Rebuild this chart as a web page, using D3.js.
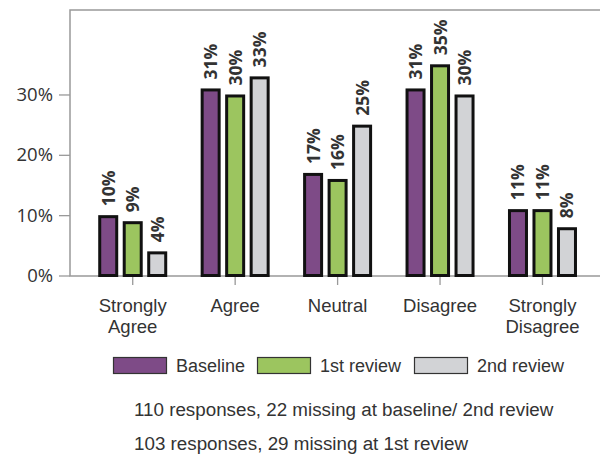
<!DOCTYPE html>
<html>
<head>
<meta charset="utf-8">
<script src="https://cdn.jsdelivr.net/npm/d3@7"></script>
<style>
  body { margin: 0; background: #fff; }
  svg { display: block; }
</style>
</head>
<body>
<svg id="chart"></svg>
<script>
// survey answers, percent of responses
let categories = ['Strongly Agree', 'Agree', 'Neutral', 'Disagree', 'Strongly Disagree']
let seriesNames = ['Baseline', '1st review', '2nd review']
let baseline = [10, 31, 17, 31, 11]
let firstReview = [9, 30, 16, 35, 11]
let secondReview = [4, 33, 25, 30, 8]
let yTicks = [0, 10, 20, 30]
let footnotes = [
    '110 responses, 22 missing at baseline/ 2nd review',
    '103 responses, 29 missing at 1st review'
]

let seriesValues = [baseline, firstReview, secondReview]
let colors = ['#7e4b87', '#9cc55f', '#d2d3d6']

let width = 600
let height = 456
let frame = { left: 70, top: 10, right: 602, bottom: 276 }

let svg = d3.select('#chart')
    .attr('width', width)
    .attr('height', height)

let x = d3.scaleBand()
    .domain(categories)
    .range([81.5, 593.7])

let xInner = d3.scaleBand()
    .domain(seriesNames)
    .range([-36.75, 36.75])

let y = d3.scaleLinear()
    .domain([0, 44])
    .range([275.5, 10])

let textColor = '#333'
let lineColor = '#999'

// frame (right side runs off the picture)
svg.append('path')
    .attr('d', `M${frame.right},${frame.top}H${frame.left}V${frame.bottom}H${frame.right}`)
    .attr('fill', 'none')
    .attr('stroke', lineColor)
    .attr('stroke-width', 1.5)

// y axis
let yAxis = svg.append('g')
    .attr('transform', `translate(${frame.left},0)`)
    .call(d3.axisLeft(y).tickValues(yTicks).tickSize(11).tickPadding(6).tickFormat(d => d + '%'))
yAxis.select('.domain').remove()
yAxis.selectAll('line').attr('stroke', lineColor).attr('stroke-width', 1.3)
yAxis.selectAll('text')
    .attr('fill', textColor)
    .style('font-family', '"Open Sans", sans-serif')
    .style('font-size', '18.5px')

// x axis, labels wrapped on spaces
let xAxis = svg.append('g')
    .attr('transform', `translate(0,${frame.bottom})`)
    .call(d3.axisBottom(x).tickSize(9).tickFormat(''))
xAxis.select('.domain').remove()
xAxis.selectAll('line').attr('stroke', lineColor).attr('stroke-width', 1.3)

let catLabels = svg.append('g')
    .selectAll('text')
    .data(categories)
    .join('text')
    .attr('x', d => x(d) + x.bandwidth() / 2)
    .attr('y', 312)
    .attr('text-anchor', 'middle')
    .attr('fill', textColor)
    .style('font-family', '"Liberation Sans", Arial, sans-serif')
    .style('font-size', '18.5px')
catLabels.selectAll('tspan')
    .data(d => d.split(' '))
    .join('tspan')
    .attr('x', function() { return d3.select(this.parentNode).attr('x') })
    .attr('dy', (d, i) => i === 0 ? 0 : 21)
    .text(d => d)

// bars
let barData = []
categories.forEach((c, ci) => {
    seriesNames.forEach((s, si) => {
        barData.push({ cat: c, series: s, si: si, value: seriesValues[si][ci] })
    })
})

let barW = 17
let groups = svg.append('g')
groups.selectAll('rect')
    .data(barData)
    .join('rect')
    .attr('x', d => x(d.cat) + x.bandwidth() / 2 + xInner(d.series) + xInner.bandwidth() / 2 - barW / 2)
    .attr('y', d => y(d.value) + 1.5)
    .attr('width', barW)
    .attr('height', d => y(0) - y(d.value) - 1.5)
    .attr('fill', d => colors[d.si])
    .attr('stroke', '#111')
    .attr('stroke-width', 3)

groups.selectAll('text')
    .data(barData)
    .join('text')
    .attr('transform', d => {
        let cx = x(d.cat) + x.bandwidth() / 2 + xInner(d.series) + xInner.bandwidth() / 2
        return `translate(${cx + 6.5},${y(d.value) - 9}) rotate(-90)`
    })
    .attr('fill', textColor)
    .style('font-family', '"Open Sans", sans-serif')
    .style('font-weight', 'bold')
    .style('font-size', '17.5px')
    .text(d => d.value + '%')

// legend
let legendX = [113, 257, 414]
let legend = svg.append('g')
    .selectAll('g')
    .data(seriesNames)
    .join('g')
    .attr('transform', (d, i) => `translate(${legendX[i]},357)`)
legend.append('rect')
    .attr('x', 0.5)
    .attr('y', 0.5)
    .attr('width', 53)
    .attr('height', 16)
    .attr('fill', (d, i) => colors[i])
    .attr('stroke', '#333')
    .attr('stroke-width', 1.2)
legend.append('text')
    .attr('x', 63)
    .attr('y', 14.7)
    .attr('fill', textColor)
    .style('font-family', '"Liberation Sans", Arial, sans-serif')
    .style('font-size', '18px')
    .text(d => d)

// notes under the legend
svg.append('g')
    .selectAll('text')
    .data(footnotes)
    .join('text')
    .attr('x', 134)
    .attr('y', (d, i) => 416 + i * 34)
    .attr('fill', textColor)
    .style('font-family', '"Liberation Sans", Arial, sans-serif')
    .style('font-size', '18.8px')
    .text(d => d)
</script>
</body>
</html>
